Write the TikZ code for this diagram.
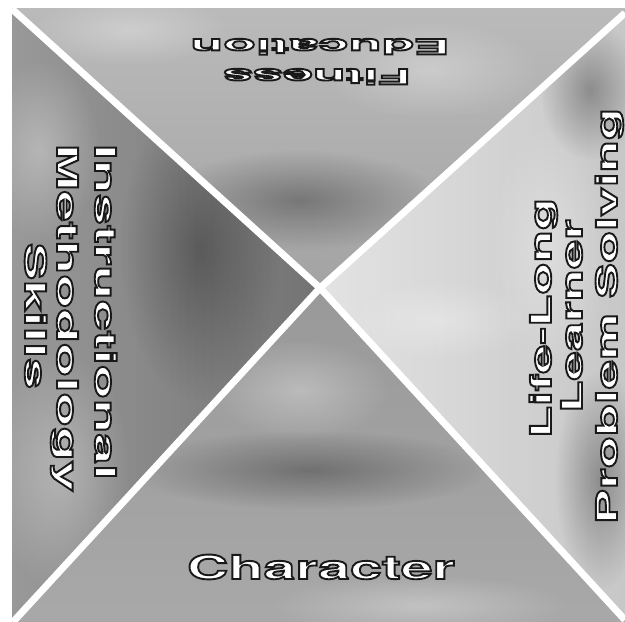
\documentclass[tikz,border=0pt]{standalone}
\usepackage{fontspec}
\usetikzlibrary{fadings}
\newfontfamily\wfA{TeX Gyre Heros}[FakeStretch=2.56]
\newfontfamily\wfB{TeX Gyre Heros}[FakeStretch=1.93]
\newfontfamily\wfC{TeX Gyre Heros}[FakeStretch=1.82]
\newfontfamily\wfD{TeX Gyre Heros}[FakeStretch=1.74]
\tikzfading[name=softblob, inner color=transparent!0, outer color=transparent!100]
% white letters with a dark stroked outline (text render mode 2)
\newcommand\outl[1]{\special{pdf:bcolor [1] [0.1]}\special{pdf:literal direct 2 Tr 1.9 w}%
 #1%
 \special{pdf:literal direct 0 Tr 1 w}\special{pdf:ecolor}}
\tikzset{
  divider/.style={draw=white, line width=7pt, line cap=butt, line join=miter},
  lbl/.style={inner sep=0pt, anchor=base},
  lblleft/.style={lbl, rotate=-90, font=\wfB\bfseries\fontsize{29}{30}\selectfont},
  lblright/.style={lbl, rotate=90, font=\wfC\bfseries\fontsize{29}{30}\selectfont},
  lblbig/.style={lbl, font=\wfD\bfseries\fontsize{33}{34}\selectfont},
  lbltop/.style={lbl, rotate=180, font=\wfA\bfseries\fontsize{21}{22}\selectfont},
  blob/.style={fill=#1, fill opacity=0.3, path fading=softblob},
}
\begin{document}
\begin{tikzpicture}[x=1pt,y=-1pt]
\useasboundingbox (0,0) rectangle (625,622);
\fill[white] (0,0) rectangle (625,622);
% corners and centre
\coordinate (TLc) at (12,8);
\coordinate (TRc) at (625,8);
\coordinate (BRc) at (625,622);
\coordinate (BLc) at (12,622);
\coordinate (C) at (320,288);
\coordinate (A) at (12,9);
\coordinate (B) at (625,13);
\coordinate (D) at (625,620);
\coordinate (E) at (13,622);
% triangles
\shade[top color=black!27, bottom color=black!36] (TLc) -- (TRc) -- (B) -- (C) -- cycle;
\begin{scope}
  \clip (TLc) -- (TRc) -- (B) -- (C) -- cycle;
  \fill[blob=black] (300,200) ellipse [x radius=140, y radius=50];
  \fill[blob=white] (430,70) ellipse [x radius=110, y radius=50];
  \fill[blob=white] (130,30) ellipse [x radius=100, y radius=35];
\end{scope}
\shade[left color=black!40, right color=black!55] (TLc) -- (C) -- (BLc) -- cycle;
\begin{scope}
  \clip (TLc) -- (C) -- (BLc) -- cycle;
  \fill[blob=black] (200,250) ellipse [x radius=80, y radius=150];
  \fill[blob=white] (60,470) ellipse [x radius=70, y radius=120];
  \fill[blob=white] (40,150) ellipse [x radius=60, y radius=90];
\end{scope}
\shade[left color=black!11, right color=black!22] (B) -- (BRc) -- (D) -- (C) -- cycle;
\begin{scope}
  \clip (B) -- (BRc) -- (D) -- (C) -- cycle;
  \fill[blob=white] (550,250) ellipse [x radius=60, y radius=130];
  \fill[blob=white] (440,320) ellipse [x radius=90, y radius=40];
  \fill[blob=black] (600,480) ellipse [x radius=45, y radius=110];
  \fill[blob=black] (590,90) ellipse [x radius=50, y radius=70];
\end{scope}
\shade[top color=black!40, bottom color=black!34] (BLc) -- (C) -- (D) -- (BRc) -- cycle;
\begin{scope}
  \clip (BLc) -- (C) -- (D) -- (BRc) -- cycle;
  \fill[blob=black] (310,470) ellipse [x radius=180, y radius=40];
  \fill[blob=white] (300,390) ellipse [x radius=90, y radius=50];
  \fill[blob=white] (420,605) ellipse [x radius=150, y radius=30];
\end{scope}
% dividers
\draw[divider] (A) -- (C) -- (D);
\draw[divider] (B) -- (C) -- (E);
% labels
\node[lbltop] (edu) at (320,39) {\outl{Education}};
\node[lbltop] (fit) at (317,69) {\outl{Fitness}};
\node[lblleft] (ins) at (95,312) {\outl{Instructional}};
\node[lblleft] (met) at (57,318) {\outl{Methodology}};
\node[lblleft] (ski) at (25,316) {\outl{Skills}};
\node[lblright] (lif) at (551,318) {\outl{Life-Long}};
\node[lblright] (lea) at (582,316) {\outl{Learner}};
\node[lblright] (pro) at (617,316) {\outl{Problem Solving}};
\node[lblbig] (cha) at (321,579) {\outl{Character}};
\end{tikzpicture}
\end{document}
